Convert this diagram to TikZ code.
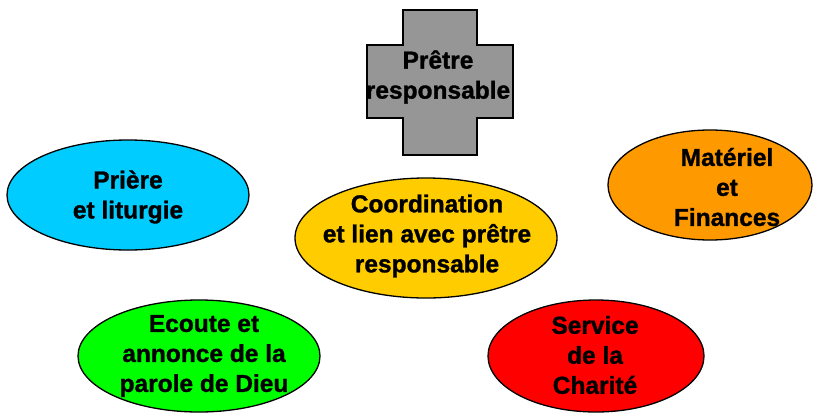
\documentclass[tikz,border=0pt]{standalone}
\usepackage{fontspec}
\setmainfont[BoldFeatures={FakeBold=1.2}]{Liberation Sans}
\definecolor{crossgray}{RGB}{150,150,150}
\definecolor{priere}{RGB}{0,204,255}
\definecolor{coord}{RGB}{255,204,0}
\definecolor{materiel}{RGB}{255,153,0}
\definecolor{ecoute}{RGB}{0,255,0}
\definecolor{charite}{RGB}{255,0,0}
\tikzset{
	pole/.style={draw=black, line width=1.3pt},
	label text/.style={align=center, inner sep=0pt, font=\fontsize{24.5}{30}\selectfont\bfseries}
}
\begin{document}
\begin{tikzpicture}[x=1pt, y=-1pt]
	\useasboundingbox (0, 0) rectangle (819, 416);
	
	\coordinate (P) at (438, 77);
	\coordinate (E1) at (128, 195);
	\coordinate (E2) at (426, 238);
	\coordinate (E3) at (710, 185);
	\coordinate (E4) at (199, 356);
	\coordinate (E5) at (596, 356);
	
	\draw[pole, fill=crossgray] (403, 10) -- (477, 10) -- (477, 45) -- (513, 45) -- (513, 118) -- (477, 118) -- (477, 155) -- (403, 155) -- (403, 118) -- (367, 118) -- (367, 45) -- (403, 45) -- cycle;
	
	\draw[pole, fill=priere] (E1) ellipse [x radius=121, y radius=55];
	\draw[pole, fill=coord] (E2) ellipse [x radius=131, y radius=60];
	\draw[pole, fill=materiel] (E3) ellipse [x radius=102, y radius=55];
	\draw[pole, fill=ecoute] (E4) ellipse [x radius=121, y radius=56];
	\draw[pole, fill=charite] (E5) ellipse [x radius=108, y radius=56];
	
	\node[label text] (pretre) at (P) {Prêtre\\responsable};
	\node[label text] (priere) at (128, 197) {Prière\\et liturgie};
	\node[label text] (coordination) at (427, 236) {Coordination\\et lien avec prêtre\\responsable};
	\node[label text] (materiel) at (727, 187) {Matériel\\et\\Finances};
	\node[label text] (ecoute) at (204, 356) {Ecoute et\\annonce de la\\parole de Dieu};
	\node[label text] (charite) at (595, 355) {Service\\de la\\Charité};
\end{tikzpicture}
\end{document}
